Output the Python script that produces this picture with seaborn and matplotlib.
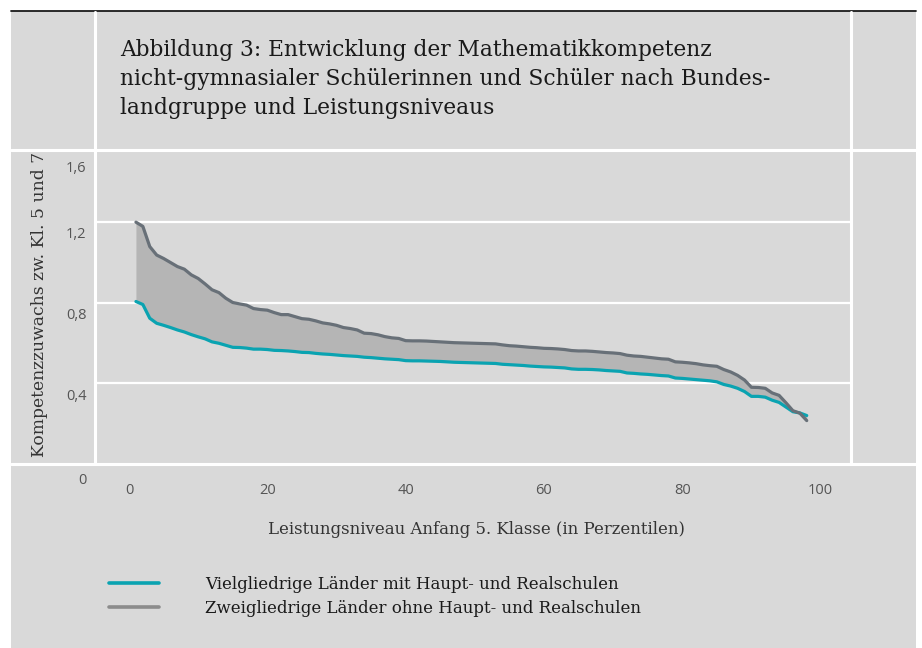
import numpy as np
import pandas as pd
import matplotlib
matplotlib.use("Agg")
import matplotlib.pyplot as plt
import seaborn as sns
from matplotlib.lines import Line2D
from matplotlib.patches import Rectangle
from matplotlib.transforms import ScaledTranslation

# ---------------- data ----------------
percentiles = list(range(1, 99))

zweigliedrig = [
    1.198, 1.177, 1.077, 1.035, 1.018, 0.998, 0.978, 0.965, 0.937, 0.919,
    0.892, 0.863, 0.849, 0.821, 0.800, 0.793, 0.787, 0.770, 0.765, 0.762,
    0.750, 0.740, 0.740, 0.730, 0.720, 0.717, 0.709, 0.699, 0.694, 0.687,
    0.676, 0.671, 0.664, 0.648, 0.646, 0.640, 0.631, 0.625, 0.622, 0.611,
    0.610, 0.610, 0.609, 0.607, 0.605, 0.603, 0.601, 0.600, 0.599, 0.598,
    0.597, 0.596, 0.595, 0.590, 0.586, 0.584, 0.581, 0.578, 0.576, 0.573,
    0.572, 0.570, 0.567, 0.562, 0.560, 0.560, 0.558, 0.555, 0.552, 0.550,
    0.547, 0.539, 0.535, 0.533, 0.529, 0.525, 0.521, 0.519, 0.506, 0.504,
    0.501, 0.497, 0.491, 0.487, 0.484, 0.468, 0.456, 0.439, 0.416, 0.380,
    0.379, 0.375, 0.352, 0.340, 0.303, 0.264, 0.252, 0.215,
]

vielgliedrig = [
    0.805, 0.790, 0.722, 0.697, 0.687, 0.676, 0.664, 0.654, 0.641, 0.630,
    0.620, 0.605, 0.598, 0.588, 0.578, 0.577, 0.574, 0.569, 0.569, 0.567,
    0.563, 0.562, 0.560, 0.557, 0.553, 0.552, 0.548, 0.545, 0.543, 0.540,
    0.537, 0.535, 0.533, 0.529, 0.527, 0.524, 0.521, 0.519, 0.517, 0.512,
    0.511, 0.511, 0.510, 0.509, 0.508, 0.506, 0.504, 0.503, 0.502, 0.501,
    0.500, 0.499, 0.498, 0.494, 0.492, 0.490, 0.488, 0.485, 0.483, 0.481,
    0.480, 0.478, 0.476, 0.471, 0.469, 0.469, 0.468, 0.466, 0.463, 0.461,
    0.459, 0.451, 0.449, 0.446, 0.444, 0.441, 0.438, 0.436, 0.426, 0.424,
    0.421, 0.418, 0.415, 0.412, 0.407, 0.394, 0.386, 0.375, 0.359, 0.335,
    0.335, 0.331, 0.316, 0.305, 0.282, 0.259, 0.253, 0.240,
]

series_names = [
    "Vielgliedrige Länder mit Haupt- und Realschulen",
    "Zweigliedrige Länder ohne Haupt- und Realschulen",
]
xticks = [0, 20, 40, 60, 80, 100]
yticks = [0, 0.4, 0.8, 1.2, 1.6]
ytick_labels = ["0", "0,4", "0,8", "1,2", "1,6"]
gridlines = [0.4, 0.8, 1.2]

title = ("Abbildung 3: Entwicklung der Mathematikkompetenz\n"
         "nicht-gymnasialer Schülerinnen und Schüler nach Bundes-\n"
         "landgruppe und Leistungsniveaus")
xlabel = "Leistungsniveau Anfang 5. Klasse (in Perzentilen)"
ylabel = "Kompetenzzuwachs zw. Kl. 5 und 7"

# ---------------- style ----------------
BG = "#d9d9d9"
TEAL = "#0aa3b1"
DARK = "#687078"
FILL = "#b5b5b5"
LEG_GRAY = "#8c8c8c"
SERIF = ["DejaVu Serif"]
SANS = ["Open Sans", "DejaVu Sans"]

sns.set_theme(style="white")
plt.rcParams["font.family"] = SERIF

W, H = 922, 648
fig = plt.figure(figsize=(W / 100, H / 100), dpi=100, facecolor="white")

def fx(px):
    return px / W

def fy(py):
    return 1 - py / H

# grey panel + top rule
fig.add_artist(Rectangle((fx(11), 0), fx(916) - fx(11), fy(11), transform=fig.transFigure,
                         facecolor=BG, edgecolor="none", zorder=-5))
fig.add_artist(Line2D([fx(11), fx(916)], [fy(10.5), fy(10.5)], color="#1a1a1a", lw=1.3,
                      transform=fig.transFigure, zorder=-4))

# white frame lines
wl = dict(color="white", lw=2.2, transform=fig.transFigure, zorder=-3)
fig.add_artist(Line2D([fx(95), fx(95)], [fy(12), fy(464)], **wl))
fig.add_artist(Line2D([fx(851), fx(851)], [fy(12), fy(464)], **wl))
fig.add_artist(Line2D([fx(11), fx(916)], [fy(149.5), fy(149.5)], **wl))
fig.add_artist(Line2D([fx(11), fx(916)], [fy(464), fy(464)], **wl))

ax_left, ax_right, ax_top, ax_bottom = 95, 851, 141, 464
ax = fig.add_axes([fx(ax_left), fy(ax_bottom), fx(ax_right) - fx(ax_left), fy(ax_top) - fy(ax_bottom)])
ax.set_zorder(2)
ax.patch.set_alpha(0)

df = pd.DataFrame({
    "x": percentiles * 2,
    "y": vielgliedrig + zweigliedrig,
    "Gruppe": [series_names[0]] * len(percentiles) + [series_names[1]] * len(percentiles),
})

ax.fill_between(percentiles, vielgliedrig, zweigliedrig, color=FILL, lw=0, zorder=2)
for g in gridlines:
    ax.axhline(g, color="white", lw=1.6, zorder=1)
sns.lineplot(data=df, x="x", y="y", hue="Gruppe", hue_order=[series_names[0], series_names[1]],
             palette={series_names[0]: TEAL, series_names[1]: DARK}, lw=2.3, ax=ax,
             legend=False, zorder=3)

ax.set_xlim(-4.92, 104.4)
ax.set_ylim(0, 1.6)
for s in ax.spines.values():
    s.set_visible(False)
ax.grid(False)

ax.set_xticks(xticks)
ax.set_xticklabels([str(t) for t in xticks], fontfamily=SANS, fontsize=10.5, color="#555555")
ax.tick_params(axis="x", direction="out", length=7.5, width=1.1, color="white", pad=6)
ax.set_yticks(yticks)
ax.set_yticklabels(ytick_labels, fontfamily=SANS, fontsize=10.5, color="#555555")
ax.tick_params(axis="y", length=0, pad=6)
offsets = [-14, -11, -11, -11, -25]
for lab, off in zip(ax.get_yticklabels(), offsets):
    lab.set_transform(lab.get_transform() + ScaledTranslation(0, off / 100, fig.dpi_scale_trans))
ax.set_xlabel("")
ax.set_ylabel("")

# texts
fig.text(fx(120), fy(39), title, ha="left", va="top", fontsize=15.7, color="#1a1a1a",
         linespacing=1.42)
fig.text(fx(476), fy(530), xlabel, ha="center", va="center", fontsize=11.9, color="#333333")
fig.text(fx(40), fy(304), ylabel, ha="center", va="center", rotation=90, fontsize=12.3,
         color="#333333")

# legend
handles = [Line2D([], [], color=TEAL, lw=2.6), Line2D([], [], color=LEG_GRAY, lw=2.6)]
fig.legend(handles, series_names, loc="upper left", bbox_to_anchor=(fx(102), fy(569)),
           frameon=False, fontsize=12, handlelength=3.0, handletextpad=2.76,
           labelspacing=0.45, borderaxespad=0, labelcolor="#1a1a1a")

fig.savefig("out.png", dpi=100, facecolor="white")
